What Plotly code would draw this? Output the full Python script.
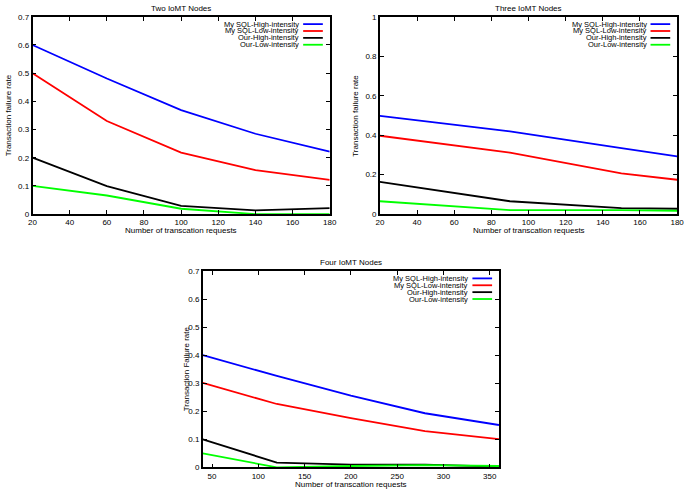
import plotly.graph_objects as go

series_names = ["My SQL-High-intensity", "My SQL-Low-intensity", "Our-High-intensity", "Our-Low-intensity"]
series_colors = ["#0000ff", "#ff0000", "#000000", "#00ff00"]

# Panel 1: Two IoMT Nodes
x_two = [20, 60, 100, 140, 180]
two_mysql_high = [0.60, 0.481, 0.369, 0.285, 0.222]
two_mysql_low = [0.50, 0.330, 0.218, 0.156, 0.121]
two_our_high = [0.20, 0.099, 0.029, 0.013, 0.021]
two_our_low = [0.10, 0.066, 0.019, 0.0, 0.0]

# Panel 2: Three IoMT Nodes
x_three = [20, 90, 150, 180]
three_mysql_high = [0.498, 0.419, 0.334, 0.292]
three_mysql_low = [0.397, 0.311, 0.206, 0.174]
three_our_high = [0.163, 0.065, 0.030, 0.027]
three_our_low = [0.065, 0.020, 0.020, 0.017]

# Panel 3: Four IoMT Nodes
x_four = [40, 120, 200, 280, 360]
four_mysql_high = [0.400, 0.326, 0.256, 0.193, 0.151]
four_mysql_low = [0.301, 0.226, 0.176, 0.129, 0.101]
four_our_high = [0.100, 0.017, 0.010, 0.010, 0.003]
four_our_low = [0.050, 0.0, 0.005, 0.008, 0.005]

W, H = 690, 493
FONT = "Liberation Sans, Arial, sans-serif"

panels = [
    dict(title="Two IoMT Nodes", ylabel="Transaction failure rate", x=x_two,
         ys=[two_mysql_high, two_mysql_low, two_our_high, two_our_low],
         px=(29, 331), py=(13, 214), xrange=[20, 180], xdtick=20, yrange=[0, 0.7], ydtick=0.1,
         ylab_x=4),
    dict(title="Three IoMT Nodes", ylabel="Transaction failure rate", x=x_three,
         ys=[three_mysql_high, three_mysql_low, three_our_high, three_our_low],
         px=(382, 684), py=(13, 214), xrange=[20, 180], xdtick=20, yrange=[0, 1], ydtick=0.2,
         ylab_x=357),
    dict(title="Four IoMT Nodes", ylabel="Transaction Failure rate", x=x_four,
         ys=[four_mysql_high, four_mysql_low, four_our_high, four_our_low],
         px=(202, 503), py=(272, 472), xrange=[40, 360], xdtick=50, yrange=[0, 0.7], ydtick=0.1,
         ylab_x=185),
]

fig = go.Figure()
annotations = []
shapes = []

for i, p in enumerate(panels):
    n = "" if i == 0 else str(i + 1)
    xa, ya = "x" + n, "y" + n
    for name, color, yv in zip(series_names, series_colors, p["ys"]):
        fig.add_trace(go.Scatter(x=p["x"], y=yv, mode="lines", name=name,
                                 line=dict(color=color, width=1.8),
                                 xaxis=xa, yaxis=ya, showlegend=False, hoverinfo="skip"))
    x0, x1 = p["px"]
    y0, y1 = p["py"]
    axis_common = dict(showgrid=False, zeroline=False, showline=True, linecolor="black",
                       linewidth=1.5, mirror="allticks", ticks="inside", ticklen=4,
                       tickcolor="black", tickfont=dict(family=FONT, size=8, color="black"))
    fig.layout["xaxis" + n] = dict(domain=[x0 / W, x1 / W], anchor=ya, range=p["xrange"],
                                   dtick=p["xdtick"], tick0=0, **axis_common)
    fig.layout["yaxis" + n] = dict(domain=[1 - y1 / H, 1 - y0 / H], anchor=xa, range=p["yrange"],
                                   dtick=p["ydtick"], **axis_common)
    cx = (x0 + x1) / 2
    # title
    annotations.append(dict(text=p["title"], x=cx / W, y=1 - (y0 - 8.5) / H, xref="paper", yref="paper",
                            showarrow=False, font=dict(family=FONT, size=8, color="black"),
                            xanchor="center", yanchor="middle", borderpad=0))
    # x label
    annotations.append(dict(text="Number of transcation requests", x=cx / W, y=1 - (y1 + 17) / H,
                            xref="paper", yref="paper", showarrow=False,
                            font=dict(family=FONT, size=8, color="black"),
                            xanchor="center", yanchor="middle", borderpad=0))
    # y label
    annotations.append(dict(text=p["ylabel"], x=p["ylab_x"] / W, y=1 - ((y0 + y1) / 2) / H,
                            xref="paper", yref="paper", showarrow=False, textangle=-90,
                            font=dict(family=FONT, size=8, color="black"),
                            xanchor="center", yanchor="middle", borderpad=0))
    # legend (gnuplot style: right-aligned text, sample on right)
    sx1 = x1 - 7
    sx0 = sx1 - 20
    for k, (name, color) in enumerate(zip(series_names, series_colors)):
        ry = y0 + 7.5 + k * 7
        annotations.append(dict(text=name, x=(sx0 - 3) / W, y=1 - ry / H, xref="paper", yref="paper",
                                showarrow=False, font=dict(family=FONT, size=7.5, color="black"),
                                xanchor="right", yanchor="middle", borderpad=0))
        shapes.append(dict(type="line", xref="paper", yref="paper", x0=sx0 / W, x1=sx1 / W,
                           y0=1 - ry / H, y1=1 - ry / H, line=dict(color=color, width=1.8)))

fig.update_layout(width=W, height=H, margin=dict(l=0, r=0, t=0, b=0),
                  paper_bgcolor="white", plot_bgcolor="white",
                  annotations=annotations, shapes=shapes, showlegend=False,
                  font=dict(family=FONT))

fig.write_html("out.html", config={"displayModeBar": False},
               post_script="document.body.style.margin='0';document.body.style.padding='0';")
